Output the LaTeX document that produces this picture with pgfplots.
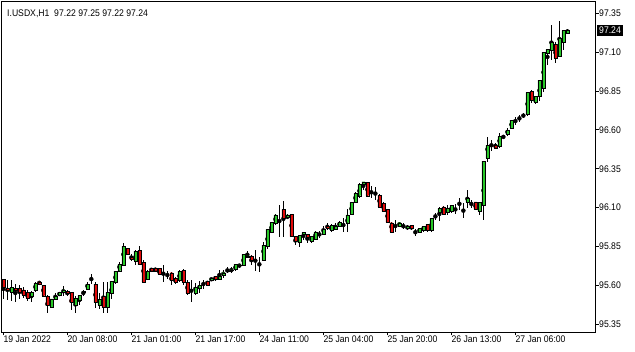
\documentclass[border=0pt]{standalone}
\usepackage{pgfplots}
\pgfplotsset{compat=1.18}
\usepackage{pgfplotstable}
\usepackage{fontspec}
\setmainfont{Liberation Sans}[FakeStretch=0.9]
\definecolor{bull}{RGB}{40,200,40}
\definecolor{bear}{RGB}{225,10,10}
\pgfplotstableread{
i O H L C
0 95.637 95.640 95.515 95.586
1 95.580 95.637 95.504 95.565
2 95.554 95.637 95.500 95.586
3 95.580 95.607 95.494 95.565
4 95.580 95.601 95.515 95.554
5 95.569 95.590 95.515 95.537
6 95.552 95.573 95.500 95.515
7 95.526 95.565 95.494 95.554
8 95.565 95.622 95.558 95.612
9 95.622 95.629 95.601 95.605
10 95.601 95.605 95.532 95.532
11 95.530 95.537 95.423 95.472
12 95.461 95.511 95.461 95.511
13 95.511 95.547 95.504 95.530
14 95.537 95.558 95.530 95.552
15 95.552 95.595 95.530 95.569
16 95.558 95.569 95.530 95.548
17 95.554 95.558 95.440 95.490
18 95.472 95.530 95.423 95.515
19 95.504 95.540 95.472 95.534
20 95.552 95.573 95.530 95.558
21 95.575 95.622 95.569 95.607
22 95.618 95.672 95.607 95.618
23 95.607 95.622 95.457 95.487
24 95.472 95.547 95.445 95.509
25 95.530 95.618 95.423 95.457
26 95.461 95.618 95.423 95.554
27 95.547 95.630 95.510 95.626
28 95.618 95.691 95.610 95.691
29 95.693 95.750 95.686 95.736
30 95.729 95.873 95.725 95.852
31 95.837 95.840 95.795 95.798
32 95.779 95.800 95.757 95.766
33 95.757 95.830 95.734 95.819
34 95.826 95.852 95.734 95.734
35 95.746 95.761 95.622 95.622
36 95.637 95.697 95.633 95.691
37 95.708 95.710 95.690 95.693
38 95.708 95.712 95.690 95.693
39 95.708 95.710 95.665 95.669
40 95.691 95.729 95.622 95.691
41 95.676 95.693 95.637 95.676
42 95.680 95.686 95.600 95.633
43 95.643 95.654 95.611 95.622
44 95.633 95.697 95.622 95.691
45 95.697 95.708 95.600 95.622
46 95.618 95.633 95.536 95.547
47 95.558 95.637 95.493 95.558
48 95.547 95.618 95.536 95.585
49 95.579 95.628 95.547 95.601
50 95.607 95.637 95.579 95.607
51 95.626 95.630 95.600 95.601
52 95.633 95.646 95.630 95.644
53 95.659 95.662 95.630 95.637
54 95.637 95.698 95.633 95.659
55 95.665 95.698 95.650 95.680
56 95.690 95.715 95.676 95.691
57 95.697 95.715 95.680 95.698
58 95.704 95.736 95.693 95.736
59 95.730 95.740 95.715 95.731
60 95.730 95.798 95.723 95.798
61 95.783 95.820 95.773 95.788
62 95.788 95.793 95.730 95.762
63 95.777 95.826 95.693 95.777
64 95.773 95.783 95.687 95.773
65 95.758 95.880 95.758 95.858
66 95.848 95.959 95.837 95.959
67 95.944 96.004 95.938 96.004
68 95.998 96.062 95.991 96.052
69 96.058 96.116 95.912 96.058
70 96.088 96.142 95.912 96.030
71 96.035 96.058 96.024 96.052
72 96.058 96.058 95.912 95.912
73 95.912 95.919 95.859 95.884
74 95.874 95.927 95.848 95.919
75 95.927 95.944 95.891 95.940
76 95.927 95.927 95.874 95.906
77 95.886 95.919 95.874 95.912
78 95.895 95.949 95.895 95.944
79 95.944 95.949 95.906 95.944
80 95.927 95.981 95.927 95.959
81 95.981 95.998 95.955 95.966
82 95.955 95.992 95.940 95.983
83 95.962 95.998 95.955 95.981
84 95.981 96.013 95.972 96.004
85 96.020 96.030 95.944 96.020
86 96.002 96.090 95.944 96.052
87 96.056 96.133 96.052 96.133
88 96.133 96.198 96.127 96.191
89 96.176 96.256 96.159 96.251
90 96.251 96.266 96.217 96.266
91 96.260 96.262 96.170 96.176
92 96.198 96.238 96.159 96.198
93 96.198 96.234 96.148 96.198
94 96.180 96.187 96.101 96.105
95 96.127 96.133 96.073 96.073
96 96.090 96.090 96.002 96.004
97 96.002 96.009 95.944 95.944
98 95.962 96.020 95.944 95.962
99 95.981 96.009 95.977 96.002
100 95.981 95.998 95.962 95.981
101 95.966 95.987 95.959 95.981
102 95.987 95.987 95.959 95.966
103 95.962 95.966 95.919 95.962
104 95.944 95.966 95.938 95.966
105 95.955 95.981 95.944 95.981
106 95.992 95.992 95.944 95.955
107 95.955 96.030 95.944 96.030
108 96.056 96.067 96.020 96.056
109 96.067 96.105 96.015 96.095
110 96.105 96.110 96.052 96.058
111 96.067 96.116 96.056 96.095
112 96.073 96.120 96.067 96.116
113 96.116 96.120 96.056 96.116
114 96.127 96.163 96.088 96.127
115 96.120 96.127 96.035 96.120
116 96.133 96.213 96.101 96.159
117 96.133 96.152 96.095 96.133
118 96.137 96.137 96.084 96.088
119 96.073 96.137 96.052 96.131
120 96.116 96.400 96.020 96.399
121 96.417 96.556 96.395 96.502
122 96.485 96.539 96.466 96.485
123 96.502 96.513 96.481 96.485
124 96.492 96.578 96.481 96.556
125 96.556 96.567 96.545 96.556
126 96.571 96.614 96.560 96.599
127 96.610 96.663 96.606 96.663
128 96.663 96.685 96.631 96.663
129 96.668 96.696 96.653 96.668
130 96.685 96.706 96.678 96.685
131 96.700 96.846 96.689 96.842
132 96.846 96.861 96.771 96.788
133 96.775 96.818 96.766 96.814
134 96.818 96.921 96.788 96.921
135 96.867 97.099 96.846 97.099
136 97.093 97.125 97.018 97.118
137 97.114 97.275 97.050 97.163
138 97.153 97.168 97.028 97.060
139 97.075 97.301 97.071 97.189
140 97.163 97.243 97.118 97.239
141 97.220 97.250 97.220 97.240
}\candles
\pgfplotsset{
  candleaxis/.style={
    at={(1pt,20pt)}, anchor=south west,
    scale only axis, width=594pt, height=331pt,
    xmin=-0.575, xmax=147.9, ymin=0.2985, ymax=2.430,
  }
}
\begin{document}
\begin{tikzpicture}
\useasboundingbox (0,0) rectangle (635pt,352pt);
% back axis: frame, ticks, wicks
\begin{axis}[candleaxis,
  clip=false,
  axis line style={black, line width=0.8pt},
  tick align=outside,
  major tick length=3.5pt,
  tick style={black, line width=0.8pt},
  xtick pos=lower, ytick pos=upper,
  xticklabel pos=lower, yticklabel pos=upper,
  xtick={0,16,32,48,64,80,96,112,128},
  xticklabels={19 Jan 2022,20 Jan 08:00,21 Jan 01:00,21 Jan 17:00,24 Jan 11:00,25 Jan 04:00,25 Jan 20:00,26 Jan 13:00,27 Jan 06:00},
  ytick={0.35,0.60,0.85,1.10,1.35,1.60,1.85,2.10,2.35},
  yticklabels={95.35,95.60,95.85,96.10,96.35,96.60,96.85,97.10,97.35},
  tick label style={font=\fontsize{9.6}{11}\selectfont, inner sep=0pt},
  xticklabel style={anchor=north west},
  yticklabel style={anchor=west, xshift=0.5pt},
]
\addplot[only marks, mark=none,
  error bars/.cd, y dir=both, y explicit, error mark=none,
  error bar style={black, solid, line width=0.7pt}]
  table[x=i, y expr={(\thisrow{H}+\thisrow{L})/2-95}, y error expr={(\thisrow{H}-\thisrow{L})/2}] {\candles};
\node[fill=black, text=white, anchor=west, inner xsep=2pt, inner ysep=0pt, minimum height=11pt,
  font=\fontsize{9.6}{11}\selectfont, xshift=2pt] at (axis cs:147.9,2.24) {97.24};
\end{axis}
% front axis: bodies
\begin{axis}[candleaxis, hide axis,
  ybar stacked, bar width=3.1pt]
\addplot[draw=none, fill=none] table[x=i, y expr={min(\thisrow{O},\thisrow{C})-95}] {\candles};
\addplot[draw=black, line width=0.45pt, fill=bull] table[x=i, y expr={max(\thisrow{C}-\thisrow{O},0)}] {\candles};
\addplot[draw=black, line width=0.45pt, fill=bear] table[x=i, y expr={max(\thisrow{O}-\thisrow{C},0)}] {\candles};
\end{axis}
\node[anchor=base west, inner sep=0pt, font=\fontsize{9.6}{11}\selectfont] at (7pt,335pt) {I.USDX,H1\ \ 97.22 97.25 97.22 97.24};
\end{tikzpicture}
\end{document}
